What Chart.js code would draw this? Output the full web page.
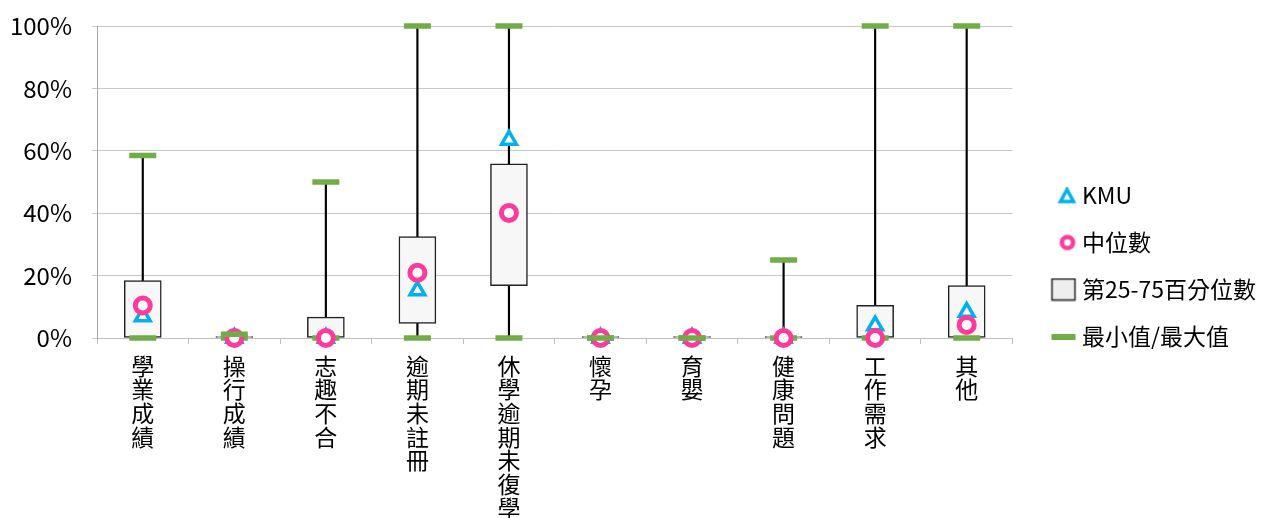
<!DOCTYPE html>
<html>
<head>
<meta charset="utf-8">
<script src="https://cdn.jsdelivr.net/npm/chart.js@4/dist/chart.umd.min.js"></script>
<style>
  html, body { margin: 0; padding: 0; background: #fff; }
  #wrap { width: 1272px; height: 518px; }
</style>
</head>
<body>
<div id="wrap"><canvas id="chart" width="1272" height="518"></canvas></div>
<script>
const categories = ['學業成績', '操行成績', '志趣不合', '逾期未註冊', '休學逾期未復學', '懷孕', '育嬰', '健康問題', '工作需求', '其他'];
const minVals = [0, 0, 0, 0, 0, 0, 0, 0, 0, 0];
const maxVals = [58.5, 1.2, 50, 100, 100, 0, 0, 25, 100, 100];
const q1Vals = [0, 0, 0, 4.7, 16.8, 0, 0, 0, 0, 0];
const q3Vals = [18.4, 0, 6.7, 32.5, 55.8, 0, 0, 0, 10.5, 16.8];
const medianVals = [10.4, 0, 0, 20.9, 40.1, 0, 0, 0, 0, 4.2];
const kmuVals = [6.9, 0, 0, 15.2, 63.5, 0, 0, 0, 4, 8.3];
const yTicks = [0, 20, 40, 60, 80, 100];

const FONT = '"Noto Sans CJK TC", "Noto Sans", sans-serif';
const cyan = '#00b0f0';
const pink = '#fe3a9c';
const green = '#70ad47';

// legend icons: 80px wide canvas, icon right edge at x=62
function icon(h, draw) {
  const c = document.createElement('canvas');
  c.width = 80;
  c.height = h;
  draw(c.getContext('2d'));
  return c;
}

const iconKmu = icon(18, g => {
  g.strokeStyle = cyan; g.lineWidth = 3.5; g.lineJoin = 'miter';
  g.beginPath(); g.moveTo(53.5, 3); g.lineTo(47, 15); g.lineTo(60, 15); g.closePath(); g.stroke();
});
const iconMed = icon(18, g => {
  g.strokeStyle = pink; g.lineWidth = 4.5;
  g.beginPath(); g.arc(54, 9, 5.6, 0, Math.PI * 2); g.stroke();
});
const iconBox = icon(24, g => {
  g.fillStyle = '#eeeeee'; g.fillRect(38.5, 1.5, 23, 21);
  g.strokeStyle = '#222'; g.lineWidth = 1.5; g.strokeRect(38.5, 1.5, 23, 21);
});
const iconMinMax = icon(6, g => {
  g.fillStyle = green; g.fillRect(38, 0, 24, 6);
});

const ctx = document.getElementById('chart');
new Chart(ctx, {
  type: 'bar',
  data: {
    labels: categories,
    datasets: [
      {
        // whisker
        type: 'bar',
        data: categories.map((c, i) => [minVals[i], maxVals[i]]),
        backgroundColor: '#000',
        barThickness: 1.5,
        grouped: false,
        order: 5
      },
      {
        type: 'bar',
        label: '第25-75百分位數',
        data: categories.map((c, i) => [q1Vals[i], q3Vals[i]]),
        backgroundColor: '#f7f7f7',
        borderColor: '#222',
        borderWidth: 1.5,
        borderSkipped: false,
        barThickness: 37,
        minBarLength: 1.5,
        grouped: false,
        order: 4
      },
      {
        type: 'line',
        label: '最小值',
        data: minVals,
        showLine: false,
        pointStyle: 'line',
        pointRadius: 13.5,
        pointBorderWidth: 5.5,
        pointBorderColor: green,
        clip: false,
        order: 3
      },
      {
        type: 'line',
        label: 'KMU',
        data: kmuVals,
        showLine: false,
        pointStyle: 'triangle',
        pointRadius: 8.5,
        pointBorderWidth: 3.5,
        pointBorderColor: cyan,
        pointBackgroundColor: '#fff',
        clip: false,
        order: 2
      },
      {
        type: 'line',
        label: '中位數',
        data: medianVals,
        showLine: false,
        pointStyle: 'circle',
        pointRadius: 7.5,
        pointBorderWidth: 5,
        pointBorderColor: pink,
        pointBackgroundColor: '#fff',
        clip: false,
        order: 1
      },
      {
        type: 'line',
        label: '最大值',
        data: maxVals,
        showLine: false,
        pointStyle: 'line',
        pointRadius: 13.5,
        pointBorderWidth: 5.5,
        pointBorderColor: green,
        clip: false,
        order: 0
      }
    ]
  },
  options: {
    responsive: false,
    animation: false,
    layout: { padding: { left: 11, top: 14, right: 6, bottom: 0 } },
    plugins: {
      tooltip: { enabled: false },
      legend: {
        position: 'right',
        labels: {
          usePointStyle: true,
          pointStyleWidth: 34,
          padding: 24,
          color: '#000',
          font: { family: FONT, size: 23 },
          generateLabels: () => [
            { text: 'KMU', pointStyle: iconKmu, lineWidth: 0, datasetIndex: 3 },
            { text: '中位數', pointStyle: iconMed, lineWidth: 0, datasetIndex: 4 },
            { text: '第25-75百分位數', pointStyle: iconBox, lineWidth: 0, datasetIndex: 1 },
            { text: '最小值/最大值', pointStyle: iconMinMax, lineWidth: 0, datasetIndex: 2 }
          ]
        }
      }
    },
    scales: {
      x: {
        offset: true,
        grid: { drawOnChartArea: false, drawTicks: true, tickLength: 6, color: '#bfbfbf', offset: true },
        border: { color: '#bfbfbf' },
        ticks: {
          color: '#000',
          padding: 10,
          maxRotation: 0,
          autoSkip: false,
          font: { family: FONT, size: 23, lineHeight: 1.03 },
          callback: (v, i) => categories[i].split('')
        },
        afterFit: axis => { axis.height = 180; }
      },
      y: {
        min: 0,
        max: 100,
        afterBuildTicks: axis => { axis.ticks = yTicks.map(v => ({ value: v })); },
        grid: { color: '#c8c8c8', tickLength: 5 },
        border: { color: '#a6a6a6' },
        ticks: {
          color: '#000',
          padding: 20,
          font: { family: FONT, size: 24 },
          callback: v => v + '%'
        },
        afterFit: axis => {
          axis.width = 86;
          axis.paddingTop = 26;
          axis.paddingBottom = 0;
        }
      }
    }
  }
});
</script>
</body>
</html>
